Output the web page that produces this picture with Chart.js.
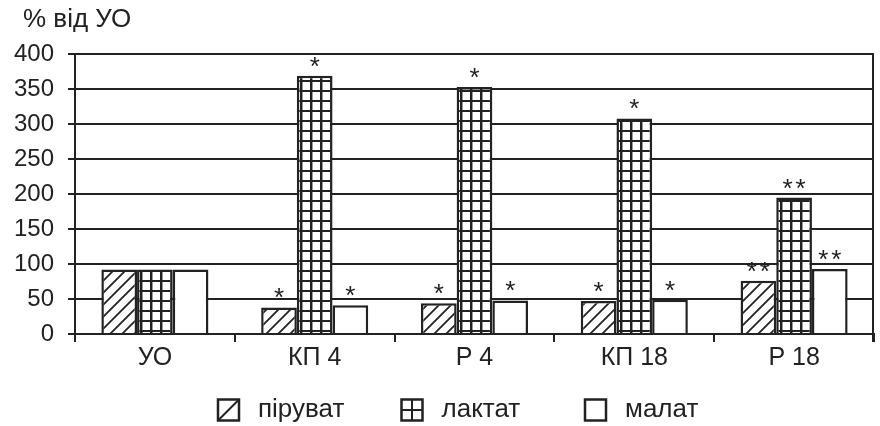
<!DOCTYPE html>
<html>
<head>
<meta charset="utf-8">
<script src="https://cdn.jsdelivr.net/npm/chart.js@4.4.1/dist/chart.umd.min.js"></script>
<style>
  html, body { margin: 0; padding: 0; background: #fff; }
  #wrap { width: 880px; height: 426px; }
</style>
</head>
<body>
<div id="wrap"><canvas id="c" width="880" height="426"></canvas></div>
<script>
// Metabolite levels, % of the УО group
const categories = ['УО', 'КП 4', 'Р 4', 'КП 18', 'Р 18'];
const seriesNames = ['піруват', 'лактат', 'малат'];
const pyruvate = [92, 38, 44, 47, 76];
const lactate  = [92, 369, 353, 308, 195];
const malate   = [92, 41, 48, 49, 93];
// significance marks above each bar
const pyruvateMarks = ['', '*', '*', '*', '**'];
const lactateMarks  = ['', '*', '*', '*', '**'];
const malateMarks   = ['', '*', '*', '*', '**'];
const yTicks = [0, 50, 100, 150, 200, 250, 300, 350, 400];
const yTitle = '% від УО';

const INK = '#222';
const FONT = 'Liberation Sans, Arial, sans-serif';

function makeTile(size, draw) {
  const cv = document.createElement('canvas');
  cv.width = size; cv.height = size;
  const g = cv.getContext('2d');
  g.fillStyle = '#fff';
  g.fillRect(0, 0, size, size);
  g.strokeStyle = INK;
  draw(g, size);
  return g.createPattern(cv, 'repeat');
}

// diagonal hatching
const hatch = makeTile(12, (g, s) => {
  g.lineWidth = 1.8;
  g.beginPath();
  g.moveTo(-1, s + 1); g.lineTo(s + 1, -1);
  g.moveTo(-1, 1); g.lineTo(1, -1);
  g.moveTo(s - 1, s + 1); g.lineTo(s + 1, s - 1);
  g.stroke();
});
// square grid
const grid = makeTile(10, (g, s) => {
  g.fillStyle = INK;
  g.fillRect(0, 0, 2, s);
  g.fillRect(0, 0, s, 2);
  g.fillStyle = '#999';
  g.fillRect(2, 2, 1, s - 2);
});

const fills = [hatch, grid, '#fff'];
const values = [pyruvate, lactate, malate];
const marks = [pyruvateMarks, lactateMarks, malateMarks];

const datasets = seriesNames.map((name, i) => ({
  label: name,
  data: values[i],
  backgroundColor: fills[i],
  borderColor: INK,
  borderWidth: 2.5,
  borderSkipped: 'start',
  categoryPercentage: 0.67,
  barPercentage: 1.0
}));

// small legend swatches: one diagonal, a cross, or empty
function drawSwatch(ctx, i, x, y, s) {
  ctx.fillStyle = '#fff';
  ctx.fillRect(x, y, s, s);
  ctx.strokeStyle = INK;
  ctx.lineWidth = 2;
  ctx.beginPath();
  if (i === 0) {
    ctx.moveTo(x, y + s); ctx.lineTo(x + s, y);
  } else if (i === 1) {
    ctx.moveTo(x + s / 2, y); ctx.lineTo(x + s / 2, y + s);
    ctx.moveTo(x, y + s / 2); ctx.lineTo(x + s, y + s / 2);
  }
  ctx.stroke();
  ctx.lineWidth = 2.5;
  ctx.strokeRect(x, y, s, s);
}

const decorations = {
  id: 'decorations',
  afterDatasetsDraw(chart) {
    const ctx = chart.ctx;
    const area = chart.chartArea;
    ctx.save();
    // right frame line
    ctx.strokeStyle = INK;
    ctx.lineWidth = 2;
    ctx.beginPath();
    ctx.moveTo(area.right - 1, area.top - 1);
    ctx.lineTo(area.right - 1, area.bottom + 8);
    ctx.stroke();

    // significance asterisks, spaced apart when doubled
    ctx.fillStyle = INK;
    ctx.font = `26px ${FONT}`;
    ctx.textAlign = 'center';
    ctx.textBaseline = 'alphabetic';
    const starGap = 13;
    marks.forEach((list, i) => {
      const meta = chart.getDatasetMeta(i);
      meta.data.forEach((bar, j) => {
        const n = list[j].length;
        for (let k = 0; k < n; k++) {
          const dx = (k - (n - 1) / 2) * starGap;
          ctx.fillText('*', bar.x + dx, bar.y - 1);
        }
      });
    });

    // axis title
    ctx.font = `26px ${FONT}`;
    ctx.textAlign = 'left';
    ctx.textBaseline = 'middle';
    ctx.fillText(yTitle, 23, 20);

    // legend
    const box = 21, gapText = 19, slot = 183.5, cy = 410;
    seriesNames.forEach((name, i) => {
      const x = 218 + i * slot;
      drawSwatch(ctx, i, x, cy - box / 2, box);
      ctx.fillStyle = INK;
      ctx.fillText(name, x + box + gapText, cy);
    });
    ctx.restore();
  }
};

new Chart(document.getElementById('c'), {
  type: 'bar',
  data: { labels: categories, datasets },
  plugins: [decorations],
  options: {
    responsive: false,
    animation: false,
    devicePixelRatio: 1,
    layout: { padding: { top: 54, right: 6, bottom: 52, left: 0 } },
    plugins: { legend: { display: false }, tooltip: { enabled: false } },
    scales: {
      x: {
        grid: { offset: true, drawOnChartArea: false, drawTicks: true, tickLength: 8, color: INK, lineWidth: 2 },
        border: { color: INK, width: 2 },
        ticks: { color: INK, font: { family: FONT, size: 25 }, padding: 1 }
      },
      y: {
        min: 0, max: 400,
        afterBuildTicks(scale) { scale.ticks = yTicks.map(v => ({ value: v })); },
        afterFit(scale) { scale.width = 75; },
        grid: { color: INK, lineWidth: 2, tickLength: 7 },
        border: { color: INK, width: 2 },
        ticks: { color: INK, font: { family: FONT, size: 24 }, padding: 14 }
      }
    }
  }
});
</script>
</body>
</html>
